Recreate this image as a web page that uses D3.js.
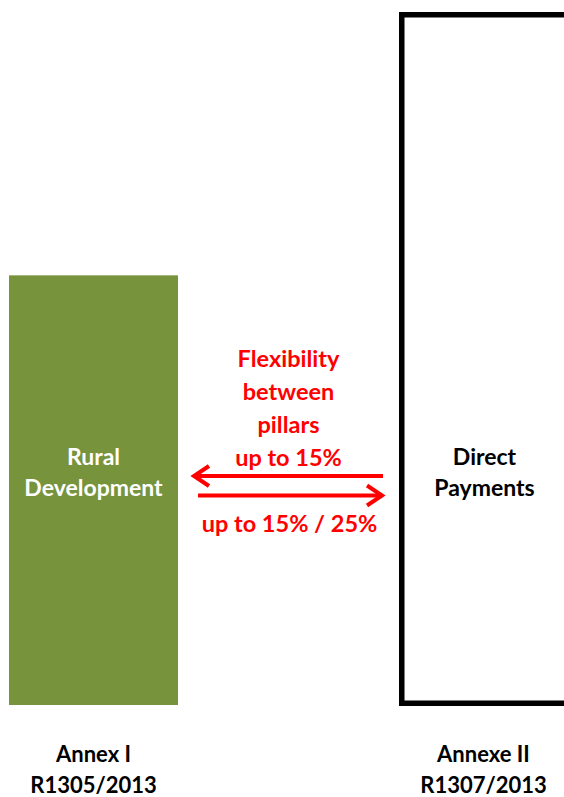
<!DOCTYPE html>
<html>
<head>
<meta charset="utf-8">
<script src="https://cdn.jsdelivr.net/npm/d3@7"></script>
<style>
  body { margin: 0; background: #fff; }
  text { font-family: Lato, "Open Sans", sans-serif; font-weight: bold; }
</style>
</head>
<body>
<div class="chart"></div>
<script>
// Two pillars of the CAP, drawn as bars
var categories = ["Rural Development", "Direct Payments"];
var values = [62, 100];
var barLines = [["Rural", "Development"], ["Direct", "Payments"]];
var annexLines = [["Annex I", "R1305/2013"], ["Annexe II", "R1307/2013"]];
var flexLines = ["Flexibility", "between", "pillars", "up to 15%"];
var backLabel = "up to 15% / 25%";

var svgWidth = 564;
var svgHeight = 797;
var baseY = 705;

var svg = d3
  .select(".chart")
  .append("svg")
  .attr("width", svgWidth)
  .attr("height", svgHeight);

var xScale = d3.scaleBand()
  .domain(categories)
  .range([9, 568])
  .paddingInner(0.5667)
  .paddingOuter(0);

var yScale = d3.scaleLinear()
  .domain([0, 100])
  .range([baseY, 12]);

var bw = xScale.bandwidth();
var sw = 5.5;

// green bar (Rural Development)
svg.append("rect")
  .attr("x", xScale(categories[0]))
  .attr("y", yScale(values[0]))
  .attr("width", bw)
  .attr("height", baseY - yScale(values[0]))
  .attr("fill", "#77933c");

// outlined bar (Direct Payments), its right side runs off the frame
svg.append("rect")
  .attr("x", xScale(categories[1]) + sw / 2)
  .attr("y", yScale(values[1]) + sw / 2)
  .attr("width", bw + 10)
  .attr("height", baseY + 1 - yScale(values[1]) - sw)
  .attr("fill", "#fff")
  .attr("stroke", "#000")
  .attr("stroke-width", sw);

// labels inside bars
barLines.forEach(function(lines, i) {
  var t = svg.append("text")
    .attr("text-anchor", "middle")
    .style("font-size", "23px")
    .style("fill", i === 0 ? "#fff" : "#000");
  lines.forEach(function(l, j) {
    t.append("tspan")
      .attr("x", xScale(categories[i]) + bw / 2 + i)
      .attr("y", baseY - 240 + j * 31)
      .text(l);
  });
});

// annex labels under bars
annexLines.forEach(function(lines, i) {
  var t = svg.append("text")
    .attr("text-anchor", "middle")
    .style("font-size", "22px")
    .style("fill", "#000");
  lines.forEach(function(l, j) {
    t.append("tspan")
      .attr("x", xScale(categories[i]) + bw / 2)
      .attr("y", baseY + 57 + j * 31)
      .text(l);
  });
});

// flexibility arrows between the pillars
var left = xScale(categories[0]) + bw;
var right = xScale(categories[1]);
var midX = (left + right) / 2;
var red = "#ff0000";

var flex = svg.append("text")
  .attr("text-anchor", "middle")
  .style("font-size", "23.5px")
  .style("fill", red);
flexLines.forEach(function(l, j) {
  flex.append("tspan")
    .attr("x", midX)
    .attr("y", 367 + j * 33)
    .text(l);
});

svg.append("text")
  .attr("x", midX + 1)
  .attr("y", 532)
  .attr("text-anchor", "middle")
  .style("font-size", "23.5px")
  .style("fill", red)
  .text(backLabel);

function arrow(x1, x2, y) {
  var dir = x2 > x1 ? -1 : 1;
  svg.append("line")
    .attr("x1", x1).attr("y1", y)
    .attr("x2", x2).attr("y2", y)
    .attr("stroke", red)
    .attr("stroke-width", 4);
  svg.append("path")
    .attr("d", "M" + (x2 + dir * 15) + "," + (y - 10) + "L" + x2 + "," + y + "L" + (x2 + dir * 15) + "," + (y + 10))
    .attr("fill", "none")
    .attr("stroke", red)
    .attr("stroke-width", 4)
    .attr("stroke-linejoin", "miter");
}
arrow(right - 16, left + 16, 476);
arrow(left + 20, right - 17, 495.5);
</script>
</body>
</html>
